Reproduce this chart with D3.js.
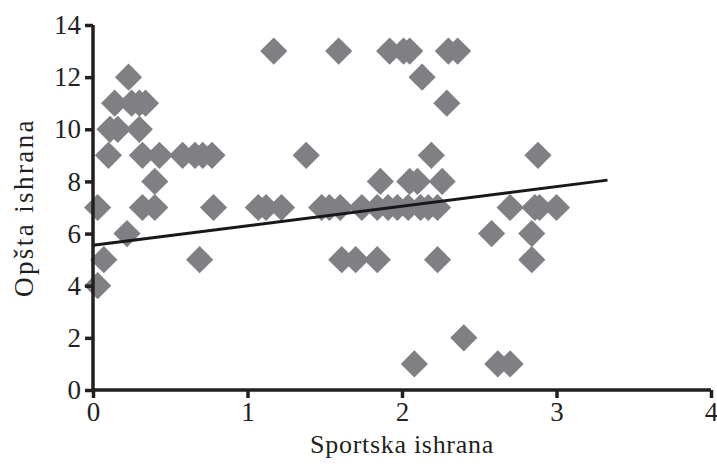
<!DOCTYPE html>
<html lang="sr">
<head>
    <meta charset="UTF-8">
    <title>Sportska vs opšta ishrana</title>
    <script src="https://d3js.org/d3.v7.min.js"></script>
    <style>
        body { margin: 0; background: #fff; }
        text { font-family: "Liberation Serif", "DejaVu Serif", serif; fill: #231f20; }
        .point { fill: #808084; }
    </style>
</head>
<body>
    <svg></svg>

    <script>
        // data
        const sportska = [
            1.17, 1.59, 1.92, 2.01, 2.05, 2.30, 2.36,
            0.23, 2.13,
            0.14, 0.25, 0.30, 0.34, 2.29,
            0.11, 0.16, 0.30,
            0.10, 0.32, 0.43, 0.58, 0.66, 0.71, 0.77, 1.38, 2.19, 2.88,
            0.40, 1.86, 2.05, 2.10, 2.26,
            0.03, 0.32, 0.40, 0.78, 1.07, 1.12, 1.22, 1.48, 1.53, 1.60, 1.74, 1.84, 1.91, 1.97,
            2.04, 2.12, 2.17, 2.23, 2.70, 2.86, 2.89, 3.00,
            0.22, 2.58, 2.84,
            0.07, 0.69, 1.61, 1.70, 1.84, 2.23, 2.84,
            0.03,
            2.40,
            2.08, 2.62, 2.70
        ];
        const opsta = [
            13, 13, 13, 13, 13, 13, 13,
            12, 12,
            11, 11, 11, 11, 11,
            10, 10, 10,
            9, 9, 9, 9, 9, 9, 9, 9, 9, 9,
            8, 8, 8, 8, 8,
            7, 7, 7, 7, 7, 7, 7, 7, 7, 7, 7, 7, 7, 7,
            7, 7, 7, 7, 7, 7, 7, 7,
            6, 6, 6,
            5, 5, 5, 5, 5, 5, 5,
            4,
            2,
            1, 1, 1
        ];
        // trend line end points
        const trendX = [0, 3.33];
        const trendY = [5.55, 8.05];

        const xTicks = [0, 1, 2, 3, 4];
        const yTicks = [0, 2, 4, 6, 8, 10, 12, 14];

        const width = 717;
        const height = 466;
        const margin = {top: 25, bottom: 76, right: 6, left: 93};

        const svg = d3.select('svg')
            .attr('width', width)
            .attr('height', height)
            .attr('viewBox', [0, 0, width, height]);

        const x_scale = d3.scaleLinear().domain([0, 4]).range([margin.left, width - margin.right]);
        const y_scale = d3.scaleLinear().domain([0, 14]).range([height - margin.bottom, margin.top]);

        // points (diamonds = rotated squares)
        const diamond = d3.symbol(d3.symbolSquare, 370);
        svg.append('g')
            .selectAll('path')
            .data(sportska.map((v, i) => ({x: v, y: opsta[i]})))
            .join('path')
            .attr('class', 'point')
            .attr('d', diamond)
            .attr('transform', d => `translate(${x_scale(d.x)},${y_scale(d.y)}) rotate(45)`);

        // trend line
        svg.append('line')
            .attr('x1', x_scale(trendX[0])).attr('y1', y_scale(trendY[0]))
            .attr('x2', x_scale(trendX[1])).attr('y2', y_scale(trendY[1]))
            .attr('stroke', '#1a1718')
            .attr('stroke-width', 3);

        const x_axis = d3.axisBottom(x_scale).tickValues(xTicks).tickSize(8).tickPadding(4).tickFormat(d3.format('d'));
        const y_axis = d3.axisLeft(y_scale).tickValues(yTicks).tickSize(8).tickPadding(4).tickFormat(d3.format('d'));

        const gx = svg.append('g')
            .attr('transform', `translate(0,${height - margin.bottom})`)
            .call(x_axis);

        const gy = svg.append('g')
            .attr('transform', `translate(${margin.left},0)`)
            .call(y_axis);

        [gx, gy].forEach(g => {
            g.attr('font-family', '"Liberation Serif", serif').attr('font-size', 27);
            g.select('.domain').attr('stroke', '#231f20').attr('stroke-width', 3.5);
            g.selectAll('.tick line').attr('stroke', '#231f20').attr('stroke-width', 3.5);
            g.selectAll('.tick text').attr('fill', '#231f20');
        });
        // axes end flush at the last tick
        gx.select('.domain').attr('d', `M${x_scale(0)},0H${x_scale(4)}`);
        gy.select('.domain').attr('d', `M0,${y_scale(0)}V${y_scale(14)}`);

        // axis titles
        svg.append('text')
            .attr('x', (x_scale(0) + x_scale(4)) / 2)
            .attr('y', 453)
            .attr('text-anchor', 'middle')
            .style('font-size', '26px')
            .style('letter-spacing', '0.7px')
            .text('Sportska ishrana');

        svg.append('text')
            .attr('transform', `translate(33,${(y_scale(0) + y_scale(14)) / 2}) rotate(-90)`)
            .attr('text-anchor', 'middle')
            .style('font-size', '27px')
            .style('letter-spacing', '2.4px')
            .text('Opšta ishrana');
    </script>
</body>
</html>
